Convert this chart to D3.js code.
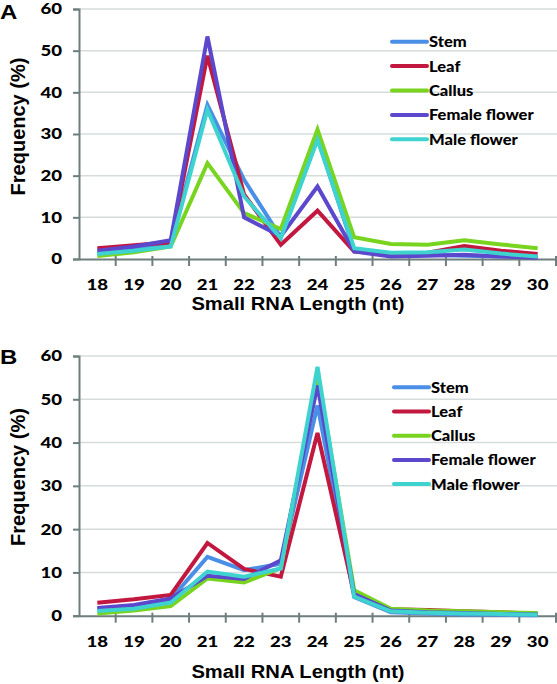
<!DOCTYPE html>
<html><head><meta charset="utf-8">
<script src="https://cdn.jsdelivr.net/npm/d3@7"></script>
<style>body{margin:0;background:#fff}svg{display:block}text{font-family:Lato,"Open Sans",sans-serif;font-weight:900;fill:#000}</style>
</head><body><svg id="c" width="557" height="684"></svg>
<script>
const categories = ["18","19","20","21","22","23","24","25","26","27","28","29","30"];
const seriesNames = ["Stem","Leaf","Callus","Female flower","Male flower"];
const seriesColors = ["#4a8fe6","#c2173f","#78d41e","#5b48cc","#3ed3cf"];
const yTicks = [0,10,20,30,40,50,60];
// Panel A values (%)
const stemA   = [1.5,2.5,3.8,37.0,19.0,5.2,29.0,2.0,1.0,1.0,0.8,0.6,0.5];
const leafA   = [2.6,3.3,4.0,48.8,15.5,3.4,11.6,1.8,1.2,1.5,3.1,2.0,1.2];
const callusA = [0.7,1.6,3.0,23.0,11.0,7.2,31.1,5.2,3.6,3.4,4.5,3.5,2.6];
const femaleA = [2.0,3.0,4.5,53.4,10.0,5.5,17.4,1.8,0.6,0.8,1.0,0.6,0.3];
const maleA   = [1.2,2.0,3.0,35.8,15.0,5.0,28.6,2.6,1.5,1.6,2.3,1.3,0.6];
// Panel B values (%)
const stemB   = [1.6,2.3,3.8,13.6,10.5,12.0,48.6,4.3,0.8,0.5,0.3,0.2,0.1];
const leafB   = [3.0,3.8,4.8,16.8,10.8,9.0,42.2,5.0,1.5,1.3,1.0,0.8,0.4];
const callusB = [0.5,1.2,2.2,8.6,7.7,11.0,56.0,5.9,1.6,1.2,1.0,0.8,0.6];
const femaleB = [1.8,2.5,4.0,9.2,8.5,12.8,53.2,5.0,1.2,0.8,0.6,0.4,0.3];
const maleB   = [1.1,1.6,3.0,10.2,9.0,10.9,57.5,4.4,1.0,0.7,0.5,0.4,0.2];

const panels = [
  {label:"A", data:[stemA,leafA,callusA,femaleA,maleA], y0:259, y1:9, legX:392, legY:41.7, legDy:24.4, xlabY:304, fy:126.5, ly:12},
  {label:"B", data:[stemB,leafB,callusB,femaleB,maleB], y0:615.7, y1:356, legX:394, legY:387.3, legDy:24.2, xlabY:672, fy:477, ly:357}
];
const svg = d3.select("#c");
const x = d3.scaleBand().domain(categories).range([79,556]);
const axisCol = "#6e7d7d";
function stretch(sel,k){
  sel.each(function(){
    const L = this.getComputedTextLength();
    this.setAttribute("textLength", L*k);
    this.setAttribute("lengthAdjust","spacingAndGlyphs");
  });
}

panels.forEach(p => {
  const g = svg.append("g");
  const y = d3.scaleLinear().domain([0,60]).range([p.y0,p.y1]);
  // gridlines
  g.append("g").selectAll("line").data(yTicks.filter(d=>d>0)).join("line")
    .attr("x1",79).attr("x2",557).attr("y1",d=>y(d)).attr("y2",d=>y(d))
    .attr("stroke","#d6dcdc").attr("stroke-width",1.5);
  // y axis
  const ya = g.append("g").attr("transform","translate(79,0)")
    .call(d3.axisLeft(y).tickValues(yTicks).tickSize(6).tickPadding(11));
  ya.select(".domain").attr("stroke",axisCol).attr("stroke-width",2);
  ya.selectAll(".tick line").attr("stroke",axisCol).attr("stroke-width",2);
  ya.selectAll("text").attr("font-family",null).attr("font-size",null).style("font-size","15.5px");
  stretch(ya.selectAll("text"),1.2);
  // x axis
  const xa = g.append("g").attr("transform",`translate(0,${p.y0})`)
    .call(d3.axisBottom(x).tickSize(0).tickPadding(20));
  xa.select(".domain").attr("stroke",axisCol).attr("stroke-width",2);
  xa.selectAll("text").attr("font-family",null).attr("font-size",null).style("font-size","15.5px");
  stretch(xa.selectAll("text"),1.2);
  // x cross ticks at band edges
  const edges = categories.map(c=>x(c)).concat([x(categories[categories.length-1])+x.bandwidth()]);
  g.append("g").selectAll("line").data(edges.slice(1)).join("line")
    .attr("x1",d=>d).attr("x2",d=>d).attr("y1",p.y0-3).attr("y2",p.y0+7)
    .attr("stroke",axisCol).attr("stroke-width",2);
  // lines
  const line = d3.line().x((d,i)=>x(categories[i])+x.bandwidth()/2).y(d=>y(d));
  p.data.forEach((s,i)=>{
    g.append("path").datum(s).attr("d",line).attr("fill","none")
      .attr("stroke",seriesColors[i]).attr("stroke-width",4).attr("stroke-linejoin","miter");
  });
  // legend
  seriesNames.forEach((n,i)=>{
    const ly = p.legY + i*p.legDy;
    g.append("line").attr("x1",p.legX).attr("x2",p.legX+35).attr("y1",ly).attr("y2",ly)
      .attr("stroke",seriesColors[i]).attr("stroke-width",4).attr("stroke-linecap","round");
    const t = g.append("text").attr("x",p.legX+37).attr("y",ly).attr("dy","0.36em").style("font-size","15px").text(n);
    stretch(t,1.1);
  });
  // axis titles
  g.append("text").attr("transform",`translate(24.5,${p.fy}) rotate(-90)`)
    .attr("text-anchor","middle").style("font-family","'Liberation Sans',Arial,sans-serif").style("font-weight","bold")
    .style("font-size","20px").text("Frequency (%)");
  const xt = g.append("text").attr("x",298).attr("y",p.xlabY).attr("dy","0.36em")
    .attr("text-anchor","middle").style("font-family","'Liberation Sans',Arial,sans-serif").style("font-weight","bold")
    .style("font-size","18px").text("Small RNA Length (nt)");
  stretch(xt,1.12);
  const lt = g.append("text").attr("x",0).attr("y",p.ly).attr("dy","0.36em")
    .style("font-family","'Liberation Sans',Arial,sans-serif").style("font-weight","bold")
    .style("font-size","20px").text(p.label);
  stretch(lt,1.2);
});
</script></body></html>
